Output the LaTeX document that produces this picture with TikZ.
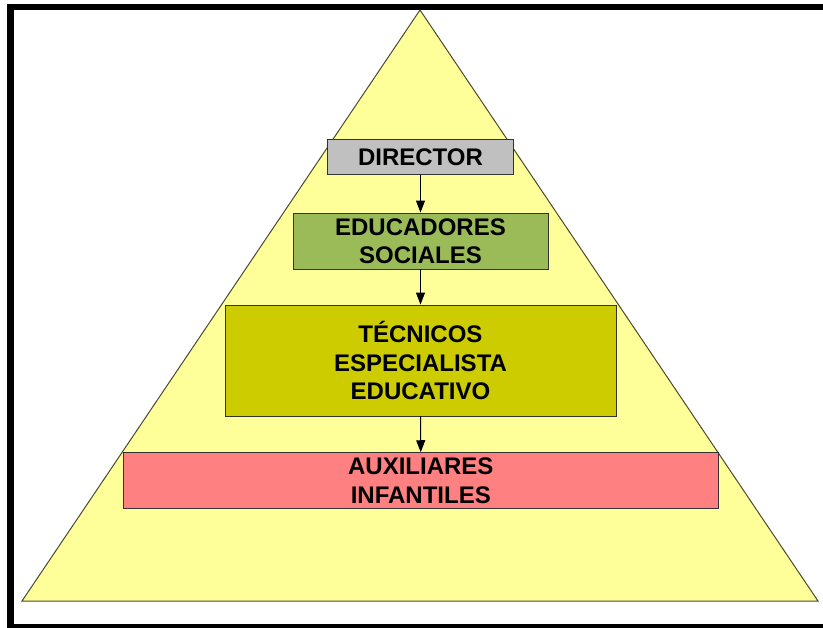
\documentclass[tikz,border=0pt]{standalone}
\usepackage{fontspec}
\setmainfont{Liberation Sans}
\usetikzlibrary{arrows.meta}
\definecolor{piramide}{HTML}{FFFF99}
\definecolor{borde}{HTML}{4A4A30}
\definecolor{gris}{HTML}{C0C0C0}
\definecolor{verde}{HTML}{9BBB59}
\definecolor{oliva}{HTML}{CCCC00}
\definecolor{rosa}{HTML}{FF8080}
\tikzset{
  nivel/.style={draw=black!80, line width=0.9pt, inner sep=0pt, align=center,
    font=\fontsize{24}{28.5}\selectfont\bfseries},
  flecha/.style={-{Triangle[length=12pt,width=9pt]}, line width=1pt}
}
\begin{document}
\begin{tikzpicture}[x=1pt,y=-1pt]
      \useasboundingbox (0,0) rectangle (823,628);
      \begin{scope}
        \clip (0,0) rectangle (823,628);
        \draw[line width=6.5pt] (830,7) -- (10.5,7) -- (10.5,627) -- (830,627);
      \end{scope}
      \filldraw[fill=piramide, draw=borde, line width=1pt]
        (22,601) coordinate (bi) -- (818,601) coordinate (bd)
        -- (420,10) coordinate (cima) -- cycle;
      \draw
        (420.5,157) node[nivel, fill=gris, minimum width=186pt, minimum height=35pt] (dir){DIRECTOR}
        (420.5,241) node[nivel, fill=verde, minimum width=255pt, minimum height=56pt] (edu){EDUCADORES\\SOCIALES}
        (420.5,360.5) node[nivel, fill=oliva, minimum width=391pt, minimum height=111pt] (tec){TÉCNICOS\\ESPECIALISTA\\EDUCATIVO}
        (420.8,480.5) node[nivel, fill=rosa, minimum width=595pt, minimum height=55.6pt] (aux){AUXILIARES\\INFANTILES};
      \begin{scope}[flecha]
        \draw (dir) to (edu);
        \draw (edu) to (tec);
        \draw (tec) to (aux);
      \end{scope}
    \end{tikzpicture}
\end{document}
